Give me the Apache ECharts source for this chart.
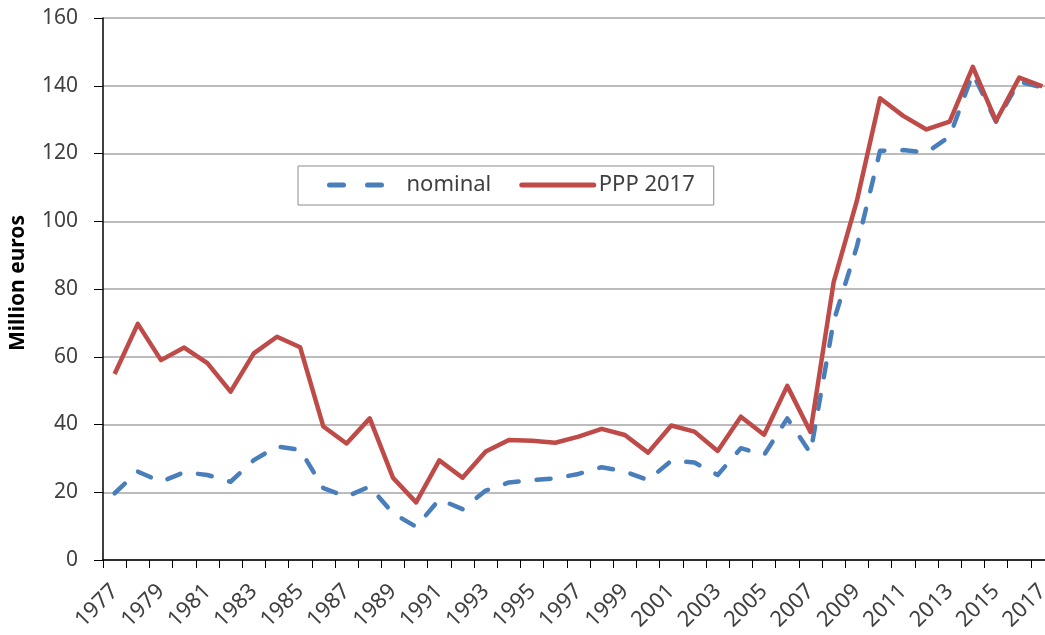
<!DOCTYPE html>
<html>
<head>
<meta charset="utf-8">
<script src="https://cdn.jsdelivr.net/npm/echarts@6/dist/echarts.min.js"></script>
<style>
  html, body { margin: 0; padding: 0; background: #fff; }
  #chart { width: 1045px; height: 635px; }
</style>
</head>
<body>
<div id="chart"></div>
<script>
// values
const years = [];
for (let y = 1977; y <= 2017; y++) years.push(String(y));

const nominal = [
  19.7, 26.1, 23.1, 25.9, 25.1, 23.1, 29.5, 33.5, 32.5, 21.2,
  18.7, 21.7, 13.8, 9.8, 17.9, 15.0, 20.5, 22.9, 23.6, 24.1,
  25.4, 27.4, 26.1, 23.6, 29.3, 28.8, 25.1, 33.0, 31.0, 41.8,
  31.6, 70.5, 92.5, 120.8, 121.0, 120.3, 125.0, 143.6, 129.4, 141.2,
  139.5
];

const ppp = [
  54.9, 69.7, 59.0, 62.7, 58.1, 49.7, 61.0, 65.9, 62.8, 39.4,
  34.4, 41.8, 24.3, 17.0, 29.4, 24.3, 32.0, 35.4, 35.2, 34.6,
  36.4, 38.7, 36.9, 31.7, 39.7, 37.9, 32.2, 42.3, 37.0, 51.4,
  37.8, 82.0, 106.0, 136.3, 131.1, 127.1, 129.4, 145.6, 129.6, 142.4,
  139.8
];

const chart = echarts.init(document.getElementById('chart'));

const option = {
  animation: false,
  textStyle: { fontFamily: 'Noto Sans' },
  grid: { left: 103, right: -9, top: 18, bottom: 75, containLabel: false, outerBoundsMode: 'none' },
  legend: {
    left: 298,
    top: 166,
    orient: 'horizontal',
    backgroundColor: '#fff',
    borderColor: '#8c8c8c',
    borderWidth: 1,
    borderRadius: 0,
    padding: [8, 19, 9, 29],
    itemWidth: 72,
    itemHeight: 14,
    itemGap: 28,
    itemStyle: { opacity: 0 },
    lineStyle: { width: 5, cap: 'round' },
    textStyle: { fontSize: 22, color: '#404040', fontFamily: 'Noto Sans' },
    data: [
      { name: 'nominal', lineStyle: { type: [14, 24], width: 5, cap: 'round' } },
      'PPP 2017'
    ]
  },
  xAxis: {
    type: 'category',
    data: years,
    boundaryGap: true,
    axisLine: { lineStyle: { color: '#000', width: 1.5 } },
    axisTick: { show: true, alignWithLabel: false, interval: 0, length: 8, lineStyle: { color: '#000' } },
    axisLabel: {
      interval: 1,
      rotate: 45,
      fontSize: 22,
      color: '#404040',
      margin: 28
    },
    splitLine: { show: false }
  },
  yAxis: {
    type: 'value',
    min: 0,
    max: 160,
    interval: 20,
    name: 'Million euros',
    nameLocation: 'middle',
    nameRotate: 90,
    nameGap: 74,
    nameTextStyle: { fontSize: 21, fontWeight: 'bold', color: '#000', padding: [0, 0, 0, 12] },
    axisLine: { show: true, lineStyle: { color: '#000', width: 1.5 } },
    axisTick: { show: true, length: 9, lineStyle: { color: '#000' } },
    axisLabel: { fontSize: 21, color: '#404040', margin: 25 },
    splitLine: { show: true, lineStyle: { color: '#a6a6a6', width: 1.5 } }
  },
  series: [
    {
      name: 'nominal',
      type: 'line',
      data: nominal,
      symbol: 'none',
      smooth: false,
      z: 2,
      itemStyle: { color: '#4a7ebb' },
      lineStyle: { color: '#4a7ebb', width: 4.5, type: [14, 18], cap: 'round', join: 'round' }
    },
    {
      name: 'PPP 2017',
      type: 'line',
      data: ppp,
      symbol: 'none',
      smooth: false,
      z: 3,
      itemStyle: { color: '#be4b48' },
      lineStyle: { color: '#be4b48', width: 4.5, join: 'round' }
    }
  ]
};

chart.setOption(option);
</script>
</body>
</html>
